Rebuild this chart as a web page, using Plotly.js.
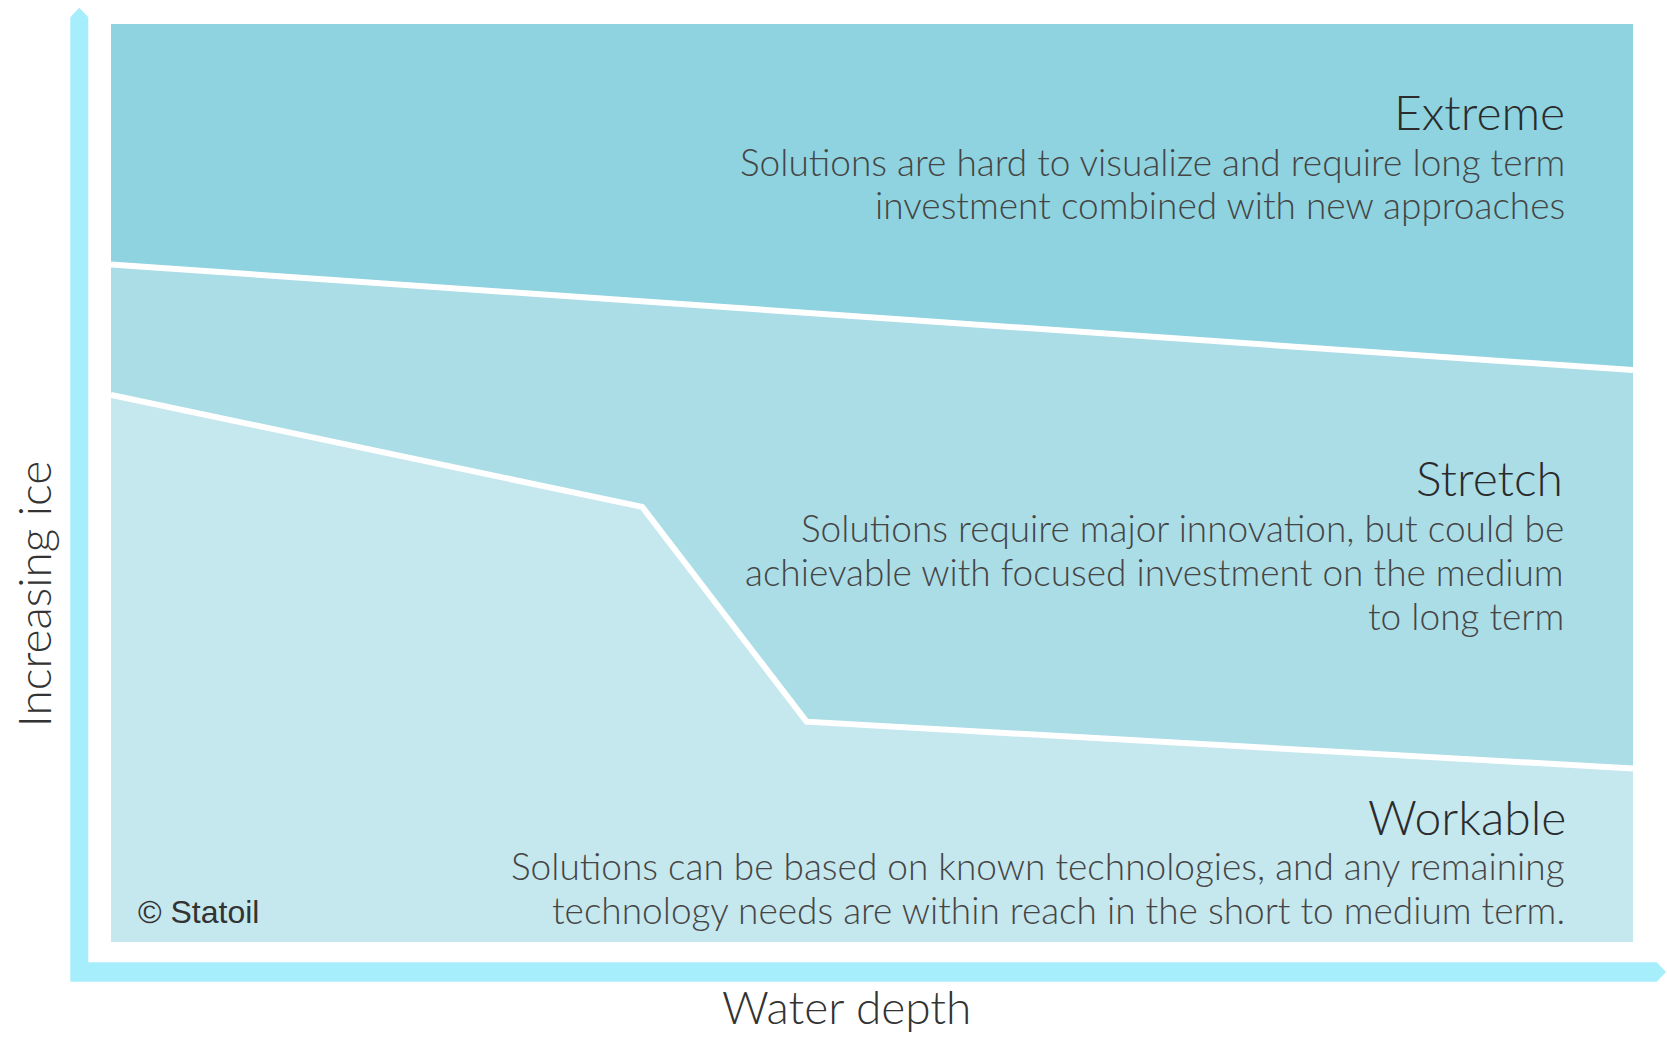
<!DOCTYPE html>
<html>
<head>
<meta charset="utf-8">
<script src="https://cdn.plot.ly/plotly-3.0.1.min.js"></script>
<style>
  html, body { margin: 0; padding: 0; background: #ffffff; }
  #chart { width: 1667px; height: 1038px; }
</style>
</head>
<body>
<div id="chart"></div>
<script>
// ---------------- data (relative units, 0-100) ----------------
const depthUpper = [0, 100];            // Extreme / Stretch boundary
const iceUpper   = [73.8, 62.3];
const depthLower = [0, 34.9, 45.7, 100]; // Stretch / Workable boundary
const iceLower   = [59.6, 47.4, 24.0, 18.9];
const depthTop   = [0, 100];
const iceTop     = [100, 100];

const zoneNames = ["Workable", "Stretch", "Extreme"];
const workableLines = [
  "Solutions can be based on known technologies, and any remaining",
  "technology needs are within reach in the short to medium term."
];
const stretchLines = [
  "Solutions require major innovation, but could be",
  "achievable with focused investment on the medium",
  "to long term"
];
const extremeLines = [
  "Solutions are hard to visualize and require long term",
  "investment combined with new approaches"
];
const xTitle = "Water depth";
const yTitle = "Increasing ice";
const credit = "© Statoil";

// ---------------- styling ----------------
const W = 1667, H = 1038;
const PL = 111, PR = 1633, PT = 23.5, PB = 942;
const px = x => (x - PL) / (PR - PL);
const py = y => (PB - y) / (PB - PT);

const colWork = "#c5e7ee", colStretch = "#abdde7", colExtreme = "#8ed3df";
const axisCol = "#a6eefb";
const titleFont = {family: "Lato, 'Open Sans', sans-serif", size: 48, color: "#2b2b2b", weight: 300};
const descFont  = {family: "Lato, 'Open Sans', sans-serif", size: 37, color: "#454545", weight: 300};
const labFont   = {family: "Lato, 'Open Sans', sans-serif", size: 46, color: "#333333", weight: 300};

const traces = [
  {x: depthLower, y: iceLower, mode: "none", fill: "tozeroy", fillcolor: colWork, hoverinfo: "skip", showlegend: false},
  {x: depthUpper, y: iceUpper, mode: "none", fill: "tonexty", fillcolor: colStretch, hoverinfo: "skip", showlegend: false},
  {x: depthTop, y: iceTop, mode: "none", fill: "tonexty", fillcolor: colExtreme, hoverinfo: "skip", showlegend: false},
  {x: depthLower, y: iceLower, mode: "lines", line: {color: "#ffffff", width: 6}, hoverinfo: "skip", showlegend: false},
  {x: depthUpper, y: iceUpper, mode: "lines", line: {color: "#ffffff", width: 6}, hoverinfo: "skip", showlegend: false}
];

// L-shaped axis arrows (paper coordinates)
const pts = [[70.3,981.7],[70.3,16.7],[79.3,7.3],[88.3,16.7],[88.3,962.3],[1656.7,962.3],[1666,972],[1656.7,981.7]];
const arrowPath = "M " + pts.map(p => px(p[0]).toFixed(5) + "," + py(p[1]).toFixed(5)).join(" L ") + " Z";

const ann = (text, x, y, font, xanchor, extra) => Object.assign({
  text, xref: "paper", yref: "paper", x: px(x), y: py(y), xanchor, yanchor: "middle",
  showarrow: false, font, align: xanchor === "right" ? "right" : "left"
}, extra || {});

const annotations = [
  ann(zoneNames[2], 1567, 111, titleFont, "right"),
  ann(zoneNames[1], 1565, 477, titleFont, "right"),
  ann(zoneNames[0], 1568, 816, titleFont, "right"),
  ann(credit, 136, 912, {family: "'Liberation Sans', Arial, sans-serif", size: 32, color: "#333333"}, "left"),
  ann(xTitle, 846, 1036, labFont, "center", {yanchor: "bottom"}),
  ann(yTitle, 33, 594, labFont, "center", {textangle: -90})
];
const block = (lines, right, ys) => lines.forEach((t, i) => annotations.push(ann(t, right, ys[i], descFont, "right")));
block(extremeLines, 1567, [161, 204.5]);
block(stretchLines, 1566, [527, 571.5, 615]);
block(workableLines, 1567, [865.5, 909]);

const layout = {
  width: W, height: H,
  margin: {l: PL, r: W - PR, t: PT, b: H - PB, pad: 0},
  paper_bgcolor: "#ffffff", plot_bgcolor: "#ffffff",
  xaxis: {range: [0, 100], visible: false, fixedrange: true},
  yaxis: {range: [0, 100], visible: false, fixedrange: true},
  shapes: [{type: "path", xref: "paper", yref: "paper", path: arrowPath, fillcolor: axisCol, line: {width: 0}, layer: "below"}],
  annotations,
  showlegend: false
};

Plotly.newPlot("chart", traces, layout, {staticPlot: true, displayModeBar: false});
</script>
</body>
</html>
